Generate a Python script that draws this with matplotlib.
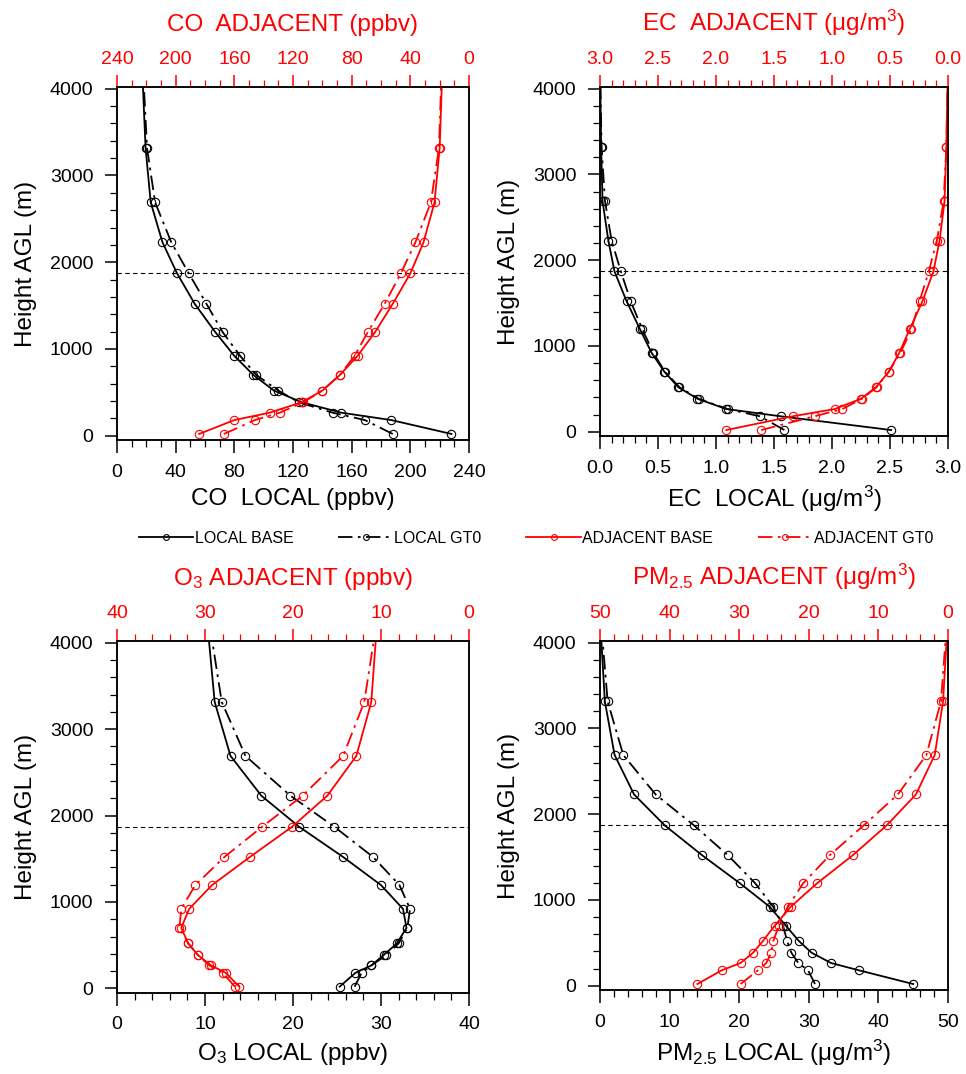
import numpy as np
import matplotlib.pyplot as plt
from matplotlib.ticker import MultipleLocator

plt.rcParams['font.family'] = ['Liberation Sans', 'DejaVu Sans']
plt.rcParams['mathtext.fontset'] = 'custom'
plt.rcParams['mathtext.rm'] = 'Liberation Sans'
plt.rcParams['mathtext.it'] = 'Liberation Sans:italic'
plt.rcParams['mathtext.default'] = 'regular'

# model levels (m AGL), last one sits above the plotted range
heights = [20, 180, 265, 385, 520, 700, 920, 1195, 1520, 1870, 2230, 2690, 3315, 4300]
pbl_height = 1870

co_local_base = [228, 187, 153, 126, 107, 93, 80, 67, 53, 41, 31, 23, 19.5, 17]
co_local_gt0 = [188, 169, 147, 124, 110, 95, 84, 72, 61, 49, 37, 26, 20.5, 17.5]
co_adj_base = [184, 160, 136, 114, 100, 88, 76, 64, 52, 40, 31, 23.5, 20, 18]
co_adj_gt0 = [167, 146, 129, 113, 100, 88, 78, 69, 57.5, 46.5, 36.5, 26, 20.5, 18.5]

ec_local_base = [2.51, 1.56, 1.09, 0.84, 0.675, 0.555, 0.445, 0.345, 0.23, 0.125, 0.072, 0.022, 0.01, 0.0]
ec_local_gt0 = [1.59, 1.38, 1.10, 0.85, 0.685, 0.56, 0.46, 0.365, 0.265, 0.18, 0.10, 0.043, 0.014, 0.0]
ec_adj_base = [1.91, 1.34, 0.975, 0.75, 0.62, 0.51, 0.42, 0.33, 0.22, 0.125, 0.072, 0.029, 0.014, 0.0]
ec_adj_gt0 = [1.61, 1.15, 0.91, 0.74, 0.615, 0.51, 0.41, 0.315, 0.245, 0.165, 0.095, 0.037, 0.014, 0.0]

o3_local_base = [25.3, 27.1, 28.9, 30.3, 31.8, 32.9, 32.5, 30.0, 25.7, 20.7, 16.4, 12.9, 11.1, 10.2]
o3_local_gt0 = [27.0, 27.8, 28.9, 30.6, 32.0, 33.0, 33.3, 32.1, 29.1, 24.7, 19.7, 14.6, 11.9, 10.4]
o3_adj_base = [26.1, 27.65, 29.3, 30.8, 31.9, 32.7, 31.8, 29.2, 24.9, 20.1, 16.1, 12.8, 11.1, 10.4]
o3_adj_gt0 = [26.6, 28.0, 29.5, 30.8, 31.9, 32.9, 32.7, 31.1, 27.8, 23.5, 18.9, 14.3, 11.9, 10.4]

pm_local_base = [45.0, 37.2, 33.2, 30.4, 28.6, 26.7, 24.4, 20.1, 14.7, 9.3, 4.9, 2.1, 0.7, 0.0]
pm_local_gt0 = [30.9, 29.9, 28.5, 27.5, 26.9, 26.3, 24.9, 22.3, 18.4, 13.5, 8.0, 3.35, 1.1, 0.1]
pm_adj_base = [36.0, 32.5, 29.8, 28.0, 26.6, 24.9, 22.6, 18.8, 13.7, 8.8, 4.6, 1.9, 0.7, 0.0]
pm_adj_gt0 = [29.8, 27.3, 26.1, 25.4, 25.1, 24.3, 23.0, 20.8, 17.0, 12.1, 7.2, 3.1, 1.0, 0.1]

legend_labels = ['LOCAL BASE', 'LOCAL GT0', 'ADJACENT BASE', 'ADJACENT GT0']

panels = [
    dict(rect=[0.1211, 0.5903, 0.3644, 0.3287], data=(co_local_base, co_local_gt0, co_adj_base, co_adj_gt0),
         xmax=240, major=40, minor=10, fmt='{:.0f}',
         xlabel='CO  LOCAL (ppbv)', toplabel='CO  ADJACENT (ppbv)'),
    dict(rect=[0.6211, 0.5940, 0.3602, 0.3250], data=(ec_local_base, ec_local_gt0, ec_adj_base, ec_adj_gt0),
         xmax=3.0, major=0.5, minor=0.1, fmt='{:.1f}',
         xlabel='EC  LOCAL ($\\mu$g/m$^3$)', toplabel='EC  ADJACENT ($\\mu$g/m$^3$)'),
    dict(rect=[0.1211, 0.0757, 0.3644, 0.3275], data=(o3_local_base, o3_local_gt0, o3_adj_base, o3_adj_gt0),
         xmax=40, major=10, minor=2, fmt='{:.0f}',
         xlabel='O$_3$ LOCAL (ppbv)', toplabel='O$_3$ ADJACENT (ppbv)'),
    dict(rect=[0.6211, 0.0782, 0.3602, 0.3250], data=(pm_local_base, pm_local_gt0, pm_adj_base, pm_adj_gt0),
         xmax=50, major=10, minor=2, fmt='{:.0f}',
         xlabel='PM$_{2.5}$ LOCAL ($\\mu$g/m$^3$)', toplabel='PM$_{2.5}$ ADJACENT ($\\mu$g/m$^3$)'),
]

dashdot = (0, (8, 3, 1.5, 3))
mk = dict(marker='o', ms=6, mfc='none', mew=0.8)

fig = plt.figure(figsize=(9.66, 10.74), dpi=100)

handles = None
for p in panels:
    lb, lg, ab, ag = p['data']
    ticks = np.arange(0, p['xmax'] + p['major'] / 2, p['major'])
    ticklabels = [p['fmt'].format(v) for v in ticks]

    ax = fig.add_axes(p['rect'])
    h1, = ax.plot(lb, heights, color='k', lw=1.3, ls='-', **mk)
    h2, = ax.plot(lg, heights, color='k', lw=1.3, ls=dashdot, **mk)
    ax.axhline(pbl_height, color='k', lw=0.8, ls=(0, (4, 3)))
    ax.set_xlim(0, p['xmax'])
    ax.set_ylim(-50, 4020)
    ax.set_xticks(ticks)
    ax.set_xticklabels(ticklabels)
    ax.xaxis.set_minor_locator(MultipleLocator(p['minor']))
    ax.set_yticks([0, 1000, 2000, 3000, 4000])
    ax.yaxis.set_minor_locator(MultipleLocator(200))
    ax.tick_params(axis='both', which='major', direction='out', length=9, width=1.1, labelsize=14, pad=8)
    ax.tick_params(axis='both', which='minor', direction='out', length=5, width=0.9)
    ax.tick_params(axis='y', right=False)
    ax.set_xlabel(p['xlabel'], fontsize=17.5, labelpad=5.5)
    ax.set_ylabel('Height AGL (m)', fontsize=17.5, labelpad=9)
    for s in ax.spines.values():
        s.set_linewidth(1.1)

    ax2 = ax.twiny()
    h3, = ax2.plot(ab, heights, color='red', lw=1.3, ls='-', **mk)
    h4, = ax2.plot(ag, heights, color='red', lw=1.3, ls=dashdot, **mk)
    ax2.set_xlim(p['xmax'], 0)
    ax2.set_ylim(-50, 4020)
    ax2.set_xticks(ticks)
    ax2.set_xticklabels(ticklabels)
    ax2.xaxis.set_minor_locator(MultipleLocator(p['minor']))
    ax2.tick_params(axis='x', which='major', direction='out', length=9, width=1.1, labelsize=14,
                    pad=5, colors='red')
    ax2.tick_params(axis='x', which='minor', direction='out', length=5, width=0.9, colors='red')
    ax2.set_xlabel(p['toplabel'], fontsize=17.5, color='red', labelpad=14)
    for s in ax2.spines.values():
        s.set_linewidth(1.1)
        s.set_color('k')
    handles = [h1, h2, h3, h4]

fig.legend(handles, legend_labels, ncol=4, loc='center', bbox_to_anchor=(0.555, 0.499),
           frameon=False, fontsize=11.5, handlelength=3.4, handletextpad=0.1,
           columnspacing=2.8, numpoints=1, markerscale=0.7)

fig.savefig('out.png', dpi=100)
